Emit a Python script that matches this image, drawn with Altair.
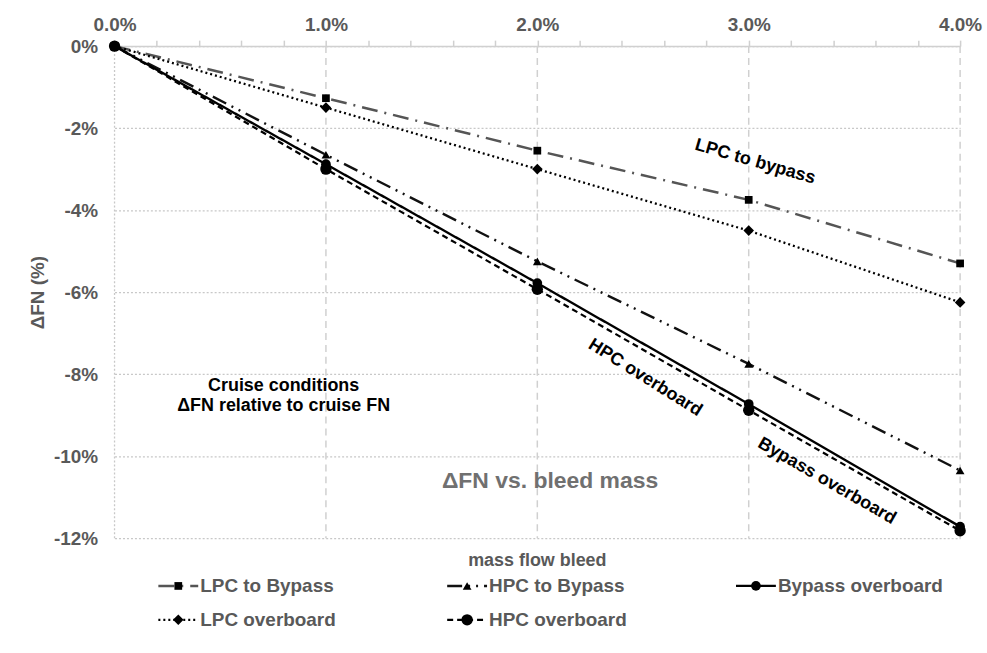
import altair as alt
import pandas as pd

# ---- data ----
bleed = [0, 1, 2, 3, 4]
series_names = ["LPC to Bypass", "HPC to Bypass", "Bypass overboard", "LPC overboard", "HPC overboard"]
lpc_bypass = [0, -1.27, -2.55, -3.75, -5.30]
hpc_bypass = [0, -2.65, -5.25, -7.75, -10.35]
bypass_over = [0, -2.88, -5.78, -8.73, -11.72]
lpc_over = [0, -1.50, -3.00, -4.50, -6.25]
hpc_over = [0, -3.00, -5.93, -8.88, -11.82]

x_ticks = [round(i * 0.2, 1) for i in range(21)]
x_grid = [1, 2, 3, 4]
y_ticks = [0, -2, -4, -6, -8, -10, -12]

ann_text = ["LPC to bypass", "HPC overboard", "Bypass overboard"]
ann_x = [3.03, 2.51, 3.37]
ann_y = [-2.82, -8.09, -10.61]
ann_angle = [16, 32, 30]

note_text = ["Cruise conditions", "ΔFN relative to cruise FN"]
note_x = [0.80, 0.80]
note_y = [-8.28, -8.77]

title_text = ["ΔFN vs. bleed mass"]
title_x = [2.06]
title_y = [-10.61]

legend_col = [0, 1, 2, 0, 1]
legend_row = [0, 0, 0, 1, 1]

# ---- styles ----
dashes = [[16, 7, 2, 7], [15, 6, 2, 6, 2, 6], [1, 0], [2, 3], [6, 4]]
shapes = ["square", "triangle-up", "circle", "diamond", "circle"]
colors = ["#555555", "#111111", "#000000", "#000000", "#000000"]
widths = [2.5, 2.2, 1.6, 2.5, 1.6]
sizes = [60, 130, 135, 90, 135]

values = [lpc_bypass, hpc_bypass, bypass_over, lpc_over, hpc_over]
rows = []
for name, vals in zip(series_names, values):
    for b, v in zip(bleed, vals):
        rows.append({"series": name, "bleed": b, "dfn": v})
df = pd.DataFrame(rows)

FONT = "Liberation Sans"
GRAY = "#595959"

x_enc = alt.X(
    "bleed:Q",
    scale=alt.Scale(domain=[0, 4], nice=False, zero=False),
    axis=alt.Axis(
        orient="top", values=x_ticks,
        labelExpr="datum.value % 1 === 0 ? format(datum.value, '.1f') + '%' : ''",
        grid=False, tickSize=6, tickColor="#d0d0d0", tickWidth=1.5,
        domainColor="#d0d0d0", domainWidth=1.5,
        labelFont=FONT, labelFontSize=19, labelFontWeight="bold", labelColor=GRAY,
        labelPadding=6, labelFlush=False, labelOverlap=False, title=None,
    ),
)
y_enc = alt.Y(
    "dfn:Q",
    scale=alt.Scale(domain=[-12, 0], nice=False),
    axis=alt.Axis(
        values=y_ticks, labelExpr="datum.value + '%'",
        grid=True, gridDash=[2, 2], gridColor="#c8c8c8", gridWidth=1.3,
        domain=False, ticks=False, labelPadding=17,
        labelFont=FONT, labelFontSize=19, labelFontWeight="bold", labelColor=GRAY,
        title="ΔFN (%)", titleFont=FONT, titleFontSize=19, titleFontWeight="bold",
        titleColor=GRAY, titlePadding=6,
    ),
)

dash_sc = alt.StrokeDash("series:N", scale=alt.Scale(domain=series_names, range=dashes), legend=None)
color_sc = alt.Color("series:N", scale=alt.Scale(domain=series_names, range=colors), legend=None)
width_sc = alt.StrokeWidth("series:N", scale=alt.Scale(domain=series_names, range=widths), legend=None)
shape_sc = alt.Shape("series:N", scale=alt.Scale(domain=series_names, range=shapes), legend=None)
size_sc = alt.Size("series:N", scale=alt.Scale(domain=series_names, range=sizes), legend=None)

grid_df = pd.DataFrame({"bleed": x_grid})
zero_df = pd.DataFrame({"bleed": [0]})

grid = alt.Chart(grid_df).mark_rule(color="#d0d0d0", strokeDash=[7, 5], strokeWidth=1.5).encode(x=x_enc)
zero = alt.Chart(zero_df).mark_rule(color="#c8c8c8", strokeDash=[2, 2], strokeWidth=1.3).encode(x=x_enc)

lines = alt.Chart(df).mark_line().encode(
    x=x_enc, y=y_enc, strokeDash=dash_sc, color=color_sc, strokeWidth=width_sc, detail="series:N"
)
points = alt.Chart(df).mark_point(filled=True, opacity=1, color="black").encode(
    x=x_enc, y=y_enc, shape=shape_sc, size=size_sc
)

ann_df = pd.DataFrame({"bleed": ann_x, "dfn": ann_y, "txt": ann_text, "ang": ann_angle})
ann = alt.Chart(ann_df).mark_text(font=FONT, fontSize=18, fontWeight="bold", color="black").encode(
    x=x_enc, y=y_enc, text="txt:N", angle=alt.Angle("ang:Q", scale=None)
)
note_df = pd.DataFrame({"bleed": note_x, "dfn": note_y, "txt": note_text})
note = alt.Chart(note_df).mark_text(font=FONT, fontSize=18, fontWeight="bold", color="black").encode(
    x=x_enc, y=y_enc, text="txt:N"
)
title_df = pd.DataFrame({"bleed": title_x, "dfn": title_y, "txt": title_text})
ttl = alt.Chart(title_df).mark_text(font=FONT, fontSize=23, fontWeight="bold", color="#707070").encode(
    x=x_enc, y=y_enc, text="txt:N"
)

main = alt.layer(zero, grid, lines, points, ann, note, ttl).properties(width=849, height=494)

# ---- legend below the plot ----
leg_df = pd.DataFrame({"series": series_names, "col": legend_col, "row": legend_row})
leg_df["x0"] = leg_df["col"]
leg_df["x1"] = leg_df["col"] + 0.138
leg_df["xm"] = leg_df["col"] + 0.069
leg_df["xt"] = leg_df["col"] + 0.145

lx = alt.Scale(domain=[-44 / 290, (849 - 44) / 290], nice=False, zero=False)
ly = alt.Scale(domain=[-0.412, 1.588], reverse=True, nice=False, zero=False)

leg_lines = alt.Chart(leg_df).mark_rule().encode(
    x=alt.X("x0:Q", scale=lx, axis=None), x2="x1:Q",
    y=alt.Y("row:Q", scale=ly, axis=None),
    strokeDash=dash_sc, color=color_sc, strokeWidth=width_sc,
)
leg_pts = alt.Chart(leg_df).mark_point(filled=True, opacity=1, color="black").encode(
    x=alt.X("xm:Q", scale=lx, axis=None), y=alt.Y("row:Q", scale=ly, axis=None),
    shape=shape_sc, size=size_sc,
)
leg_txt = alt.Chart(leg_df).mark_text(
    align="left", baseline="middle", font=FONT, fontSize=19, fontWeight="bold", color=GRAY
).encode(
    x=alt.X("xt:Q", scale=lx, axis=None), y=alt.Y("row:Q", scale=ly, axis=None), text="series:N"
)
legend = alt.layer(leg_lines, leg_pts, leg_txt).properties(
    width=849, height=68,
    title=alt.Title("mass flow bleed", font=FONT, fontSize=18, fontWeight="bold", color=GRAY, offset=2),
)

chart = alt.vconcat(main, legend, spacing=4).properties(
    padding={"left": 28, "top": 14, "right": 5, "bottom": 5}
).configure(font=FONT, background="white").configure_view(strokeWidth=0, stroke="transparent")

chart.save("out.html", embed_options={"renderer": "svg", "actions": False})
